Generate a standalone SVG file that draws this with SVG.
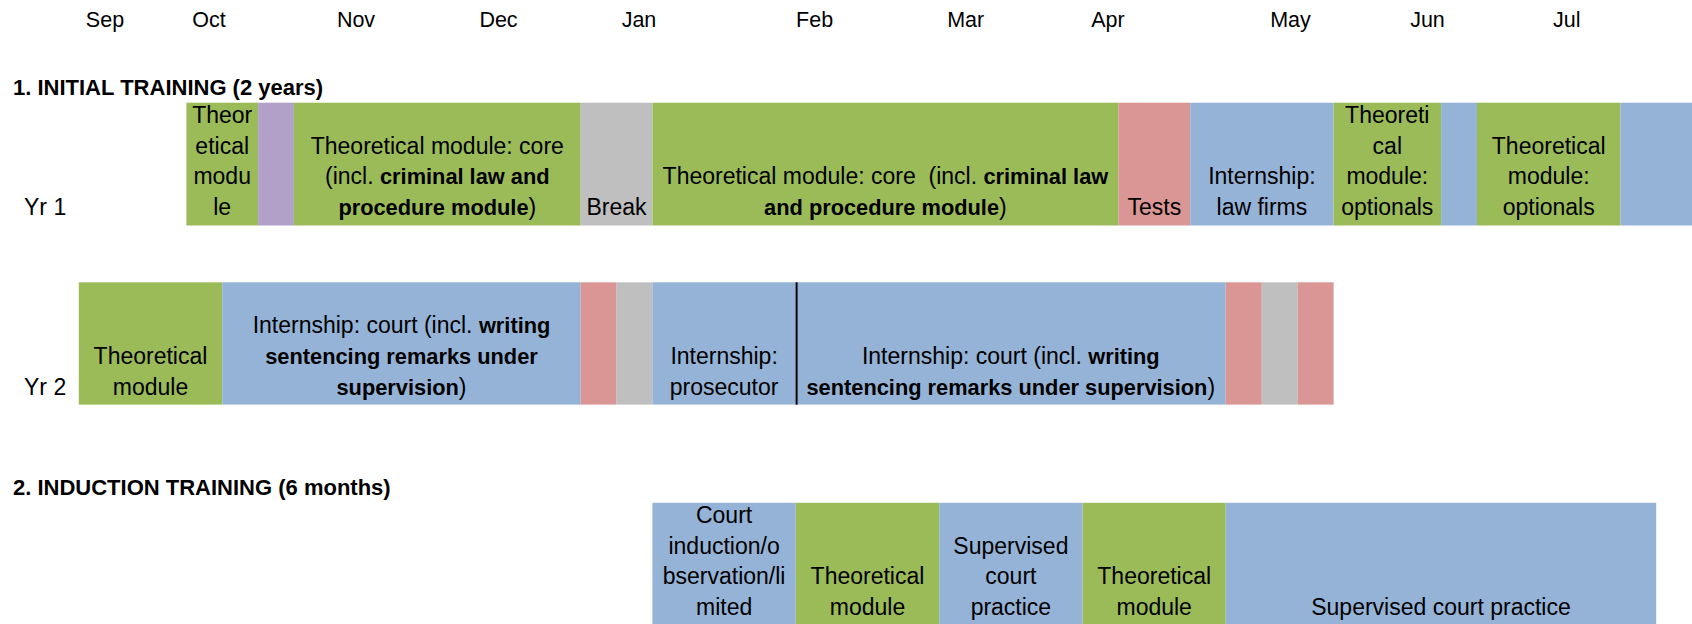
<svg xmlns="http://www.w3.org/2000/svg" width="1692" height="624" viewBox="0 0 1692 624">
<style>
text{font-family:"Liberation Sans",Arial,sans-serif;font-size:23px;fill:#000;text-anchor:middle}
.m{font-size:21.5px}
.l{text-anchor:start}
.b{font-weight:bold;font-size:21.8px}
.t{font-weight:bold;font-size:22px}
.g{fill:#9BBB59}.bl{fill:#95B3D7}.p{fill:#DA9694}.gr{fill:#BFBFBF}.pu{fill:#B1A0C7}
</style>
<rect width="1692" height="624" fill="#fff"/>
<g id="months" class="m">
<text class="m" x="105" y="27">Sep</text>
<text class="m" x="209" y="27">Oct</text>
<text class="m" x="356" y="27">Nov</text>
<text class="m" x="498.5" y="27">Dec</text>
<text class="m" x="639" y="27">Jan</text>
<text class="m" x="814.6" y="27">Feb</text>
<text class="m" x="965.7" y="27">Mar</text>
<text class="m" x="1108" y="27">Apr</text>
<text class="m" x="1290.5" y="27">May</text>
<text class="m" x="1427.5" y="27">Jun</text>
<text class="m" x="1566.7" y="27">Jul</text>
</g>
<g id="title1"><text class="l t" x="13" y="95">1. INITIAL TRAINING (2 years)</text></g>
<g id="title2"><text class="l t" x="13" y="495">2. INDUCTION TRAINING (6 months)</text></g>
<g id="yr1-label"><text class="l" x="24" y="215">Yr 1</text></g>
<g id="yr2-label"><text class="l" x="24" y="394.6">Yr 2</text></g>

<g id="y1-theor"><rect class="g" x="186.4" y="102.7" width="71.7" height="122.8"/>
<text x="222.2" y="122.9">Theor</text><text x="222.2" y="153.6">etical</text><text x="222.2" y="184.3">modu</text><text x="222.2" y="215">le</text></g>
<g id="y1-purple"><rect class="pu" x="258.1" y="102.7" width="35.8" height="122.8"/></g>
<g id="y1-core1"><rect class="g" x="293.9" y="102.7" width="286.8" height="122.8"/>
<text x="437.3" y="153.6">Theoretical module: core</text>
<text x="437.3" y="184.3">(incl. <tspan class="b">criminal law and</tspan></text>
<text x="437.3" y="215"><tspan class="b">procedure module</tspan>)</text></g>
<g id="y1-break"><rect class="gr" x="580.7" y="102.7" width="71.7" height="122.8"/>
<text x="616.5" y="215">Break</text></g>
<g id="y1-core2"><rect class="g" x="652.4" y="102.7" width="466.1" height="122.8"/>
<text x="885.4" y="184.3" xml:space="preserve">Theoretical module: core  (incl. <tspan class="b">criminal law</tspan></text>
<text x="885.4" y="215"><tspan class="b">and procedure module</tspan>)</text></g>
<g id="y1-tests"><rect class="p" x="1118.5" y="102.7" width="71.7" height="122.8"/>
<text x="1154.3" y="215">Tests</text></g>
<g id="y1-lawfirms"><rect class="bl" x="1190.2" y="102.7" width="143.4" height="122.8"/>
<text x="1261.9" y="184.3">Internship:</text><text x="1261.9" y="215">law firms</text></g>
<g id="y1-opt1"><rect class="g" x="1333.6" y="102.7" width="107.5" height="122.8"/>
<text x="1387.3" y="122.9">Theoreti</text><text x="1387.3" y="153.6">cal</text><text x="1387.3" y="184.3">module:</text><text x="1387.3" y="215">optionals</text></g>
<g id="y1-blue2"><rect class="bl" x="1441.1" y="102.7" width="35.9" height="122.8"/></g>
<g id="y1-opt2"><rect class="g" x="1477" y="102.7" width="143.4" height="122.8"/>
<text x="1548.7" y="153.6">Theoretical</text><text x="1548.7" y="184.3">module:</text><text x="1548.7" y="215">optionals</text></g>
<g id="y1-blue3"><rect class="bl" x="1620.4" y="102.7" width="71.6" height="122.8"/></g>

<g id="y2-theor"><rect class="g" x="78.8" y="282.3" width="143.4" height="122.3"/>
<text x="150.5" y="363.9">Theoretical</text><text x="150.5" y="394.6">module</text></g>
<g id="y2-court1"><rect class="bl" x="222.2" y="282.3" width="358.5" height="122.3"/>
<text x="401.5" y="333.2">Internship: court (incl. <tspan class="b">writing</tspan></text>
<text x="401.5" y="363.9" class="b">sentencing remarks under</text>
<text x="401.5" y="394.6"><tspan class="b">supervision</tspan>)</text></g>
<g id="y2-pink1"><rect class="p" x="580.7" y="282.3" width="35.9" height="122.3"/></g>
<g id="y2-gray1"><rect class="gr" x="616.6" y="282.3" width="35.8" height="122.3"/></g>
<g id="y2-prosecutor"><rect class="bl" x="652.4" y="282.3" width="143.4" height="122.3"/>
<text x="724.1" y="363.9">Internship:</text><text x="724.1" y="394.6">prosecutor</text></g>
<g id="y2-court2"><rect class="bl" x="795.8" y="282.3" width="429.9" height="122.3"/>
<text x="1010.8" y="363.9">Internship: court (incl. <tspan class="b">writing</tspan></text>
<text x="1010.8" y="394.6"><tspan class="b">sentencing remarks under supervision</tspan>)</text></g>
<g id="y2-pink2"><rect class="p" x="1225.7" y="282.3" width="36.1" height="122.3"/></g>
<g id="y2-gray2"><rect class="gr" x="1261.8" y="282.3" width="35.9" height="122.3"/></g>
<g id="y2-pink3"><rect class="p" x="1297.7" y="282.3" width="35.9" height="122.3"/></g>
<g id="connectors"><line x1="796.6" y1="282.3" x2="796.6" y2="404.6" stroke="#000" stroke-width="2"/></g>

<g id="ind-court"><rect class="bl" x="652.4" y="502.8" width="143.4" height="121.2"/>
<text x="724.1" y="523">Court</text><text x="724.1" y="553.7">induction/o</text><text x="724.1" y="584.4">bservation/li</text><text x="724.1" y="615.1">mited</text></g>
<g id="ind-theor1"><rect class="g" x="795.8" y="502.8" width="143.4" height="121.2"/>
<text x="867.5" y="584.4">Theoretical</text><text x="867.5" y="615.1">module</text></g>
<g id="ind-sup1"><rect class="bl" x="939.2" y="502.8" width="143.4" height="121.2"/>
<text x="1010.9" y="553.7">Supervised</text><text x="1010.9" y="584.4">court</text><text x="1010.9" y="615.1">practice</text></g>
<g id="ind-theor2"><rect class="g" x="1082.6" y="502.8" width="143.1" height="121.2"/>
<text x="1154.2" y="584.4">Theoretical</text><text x="1154.2" y="615.1">module</text></g>
<g id="ind-sup2"><rect class="bl" x="1225.7" y="502.8" width="430.5" height="121.2"/>
<text x="1441" y="615.1">Supervised court practice</text></g>
</svg>
